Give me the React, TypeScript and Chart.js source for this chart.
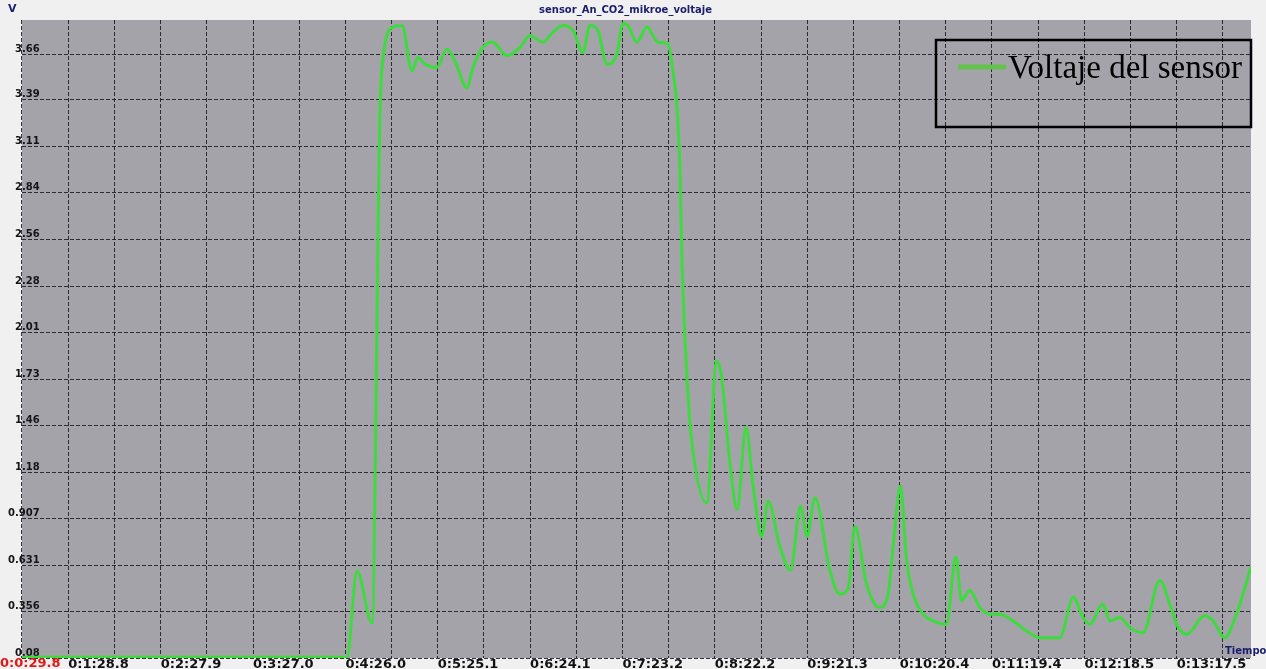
import React, { useEffect, useRef } from 'react';
import { Chart, registerables } from 'chart.js';

Chart.register(...registerables);

const chartTitle = 'sensor_An_CO2_mikroe_voltaje';
const seriesLabel = 'Voltaje del sensor';
const yAxisTitle = 'V';
const xAxisTitle = 'Tiempo';
const originLabel = '0:0:29.8';

const xTickLabels = [
  '0:1:28.8', '0:2:27.9', '0:3:27.0', '0:4:26.0', '0:5:25.1', '0:6:24.1', '0:7:23.2',
  '0:8:22.2', '0:9:21.3', '0:10:20.4', '0:11:19.4', '0:12:18.5', '0:13:17.5',
];
const yTickLabels = [
  '0.08', '0.356', '0.631', '0.907', '1.18', '1.46', '1.73', '2.01', '2.28', '2.56', '2.84', '3.11', '3.39', '3.66',
];

// time in seconds
const timeSeconds = [
  59.3, 267.0, 273.4, 283.0, 288.1, 290.7, 296.4, 302.2, 308.6, 312.4, 316.9, 324.5, 330.9, 336.0,
  343.7, 347.5, 353.9, 360.3, 369.3, 377.6, 384.0, 392.3, 398.7, 405.1, 411.5, 417.9, 422.3, 427.5,
  433.2, 439.6, 443.4, 446.6, 452.4, 458.8, 465.8, 472.2, 475.4, 477.9, 479.9, 481.1, 483.1, 485.0,
  486.9, 497.1, 503.3, 506.5, 511.8, 516.5, 522.1, 526.7, 532.1, 536.3, 543.8, 550.6, 557.0, 561.2,
  566.2, 575.7, 582.1, 587.4, 591.7, 599.2, 607.3, 613.0, 616.2, 620.9, 624.8, 629.0, 635.4, 641.8,
  650.3, 656.3, 659.9, 665.2, 671.6, 678.0, 684.4, 692.9, 701.5, 710.0, 722.8, 731.4, 737.6, 741.9,
  750.4, 754.7, 761.1, 767.5, 776.0, 786.7, 793.1, 797.4, 803.7, 815.4, 820.8, 828.2, 835.7, 845.0,
];
const voltage = [
  0.085, 0.085, 0.596, 0.288, 3.30, 3.68, 3.82, 3.83, 3.56, 3.64, 3.60, 3.58, 3.69, 3.62,
  3.46, 3.58, 3.70, 3.73, 3.65, 3.70, 3.77, 3.73, 3.79, 3.83, 3.80, 3.67, 3.83, 3.80,
  3.60, 3.66, 3.84, 3.83, 3.73, 3.82, 3.73, 3.72, 3.56, 3.36, 2.98, 2.48, 1.98, 1.65,
  1.41, 1.00, 1.84, 1.75, 1.24, 0.96, 1.45, 1.10, 0.80, 1.01, 0.74, 0.60, 0.98, 0.80,
  1.03, 0.60, 0.46, 0.49, 0.86, 0.52, 0.38, 0.46, 0.74, 1.10, 0.66, 0.46, 0.34, 0.30,
  0.28, 0.68, 0.42, 0.48, 0.38, 0.34, 0.34, 0.30, 0.24, 0.20, 0.20, 0.44, 0.32, 0.28,
  0.40, 0.30, 0.32, 0.26, 0.23, 0.54, 0.40, 0.28, 0.22, 0.33, 0.30, 0.20, 0.34, 0.62,
];

const xMin = 59.25;
const xMax = 845.0;
const yMin = 0.08;
const yMax = 3.862;

const parseTime = (s: string) => {
  const [h, m, sec] = s.split(':').map(parseFloat);
  return h * 3600 + m * 60 + sec;
};
const labelSeconds = xTickLabels.map(parseTime);
const xTickValues: number[] = [];
labelSeconds.forEach((v, i) => {
  if (i === 0) xTickValues.push(v - (labelSeconds[1] - v) / 2);
  xTickValues.push(v);
  if (i < labelSeconds.length - 1) xTickValues.push((v + labelSeconds[i + 1]) / 2);
  else xTickValues.push(v + (v - labelSeconds[i - 1]) / 2);
});
const yTickValues = yTickLabels.map(parseFloat);

const pageBg = '#f0f0f0';
const plotBg = '#a4a3aa';
const gridColor = 'rgba(30,30,35,0.9)';
const lineColor = '#3ddc3d';
const legendSwatch = '#62c24a';
const navy = '#1c1c6e';

const decorPlugin = {
  id: 'decor',
  beforeDraw(chart: any) {
    const { ctx, chartArea: a, width, height } = chart;
    ctx.save();
    ctx.fillStyle = pageBg;
    ctx.fillRect(0, 0, width, height);
    ctx.fillStyle = plotBg;
    ctx.fillRect(a.left, a.top, a.right - a.left, a.bottom - a.top);
    ctx.restore();
  },
  afterDraw(chart: any) {
    const { ctx, chartArea: a } = chart;
    ctx.save();
    ctx.fillStyle = navy;
    ctx.font = 'bold 11px "DejaVu Sans"';
    ctx.textAlign = 'left';
    ctx.textBaseline = 'middle';
    ctx.fillText(yAxisTitle, 8, 9);
    ctx.font = 'bold 10px "DejaVu Sans"';
    ctx.fillText(xAxisTitle, a.right - 26, a.bottom - 7);
    ctx.fillStyle = '#e01818';
    ctx.font = 'bold 13px "DejaVu Sans"';
    ctx.textBaseline = 'top';
    ctx.fillText(originLabel, a.left - 22, a.bottom - 1);
    const bw = 315, bh = 87;
    const bx = a.right - bw, by = a.top + 20;
    ctx.strokeStyle = '#000';
    ctx.lineWidth = 2.5;
    ctx.strokeRect(bx, by, bw, bh);
    ctx.strokeStyle = legendSwatch;
    ctx.lineWidth = 5;
    ctx.beginPath();
    ctx.moveTo(bx + 22, by + 27);
    ctx.lineTo(bx + 70, by + 27);
    ctx.stroke();
    ctx.fillStyle = '#000';
    ctx.font = '33px "Liberation Serif"';
    ctx.textBaseline = 'middle';
    ctx.fillText(chart.data.datasets[0].label, bx + 72, by + 29);
    ctx.restore();
  },
};

export default function App() {
  const canvasRef = useRef<HTMLCanvasElement>(null);

  useEffect(() => {
    document.body.style.margin = '0';
    const canvas = canvasRef.current;
    if (!canvas) return;
    const chart = new Chart(canvas, {
      type: 'line',
      data: {
        datasets: [
          {
            label: seriesLabel,
            data: timeSeconds.map((t, i) => ({ x: t, y: voltage[i] })),
            borderColor: lineColor,
            backgroundColor: lineColor,
            borderWidth: 3,
            pointRadius: 0,
            cubicInterpolationMode: 'monotone',
            fill: false,
          },
        ],
      },
      options: {
        animation: false,
        responsive: true,
        maintainAspectRatio: false,
        layout: { padding: { left: 0, right: 15, top: 0, bottom: 0 } },
        plugins: {
          legend: { display: false },
          tooltip: { enabled: false },
          title: {
            display: true,
            text: chartTitle,
            color: navy,
            font: { family: '"DejaVu Sans"', size: 10, weight: 'bold', lineHeight: 1.2 },
            padding: { top: 4, bottom: 4 },
          },
        },
        scales: {
          x: {
            type: 'linear',
            min: xMin,
            max: xMax,
            afterBuildTicks: (s: any) => {
              s.ticks = xTickValues.map((v) => ({ value: v }));
            },
            afterFit: (s: any) => {
              s.height = 11;
            },
            grid: { color: gridColor, lineWidth: 1, drawTicks: false },
            border: { display: false, dash: [4, 2] },
            ticks: {
              autoSkip: false,
              maxRotation: 0,
              minRotation: 0,
              align: 'start',
              padding: -1,
              color: '#111',
              font: { family: '"DejaVu Sans"', size: 13, weight: 'bold' },
              callback: (_v: any, i: number) => (i % 2 === 1 ? xTickLabels[(i - 1) / 2] : ''),
            },
          },
          y: {
            type: 'linear',
            min: yMin,
            max: yMax,
            afterBuildTicks: (s: any) => {
              s.ticks = yTickValues.map((v) => ({ value: v }));
            },
            afterFit: (s: any) => {
              s.width = 22;
            },
            grid: { color: gridColor, lineWidth: 1, drawTicks: false },
            border: { display: false, dash: [4, 2] },
            ticks: {
              autoSkip: false,
              mirror: true,
              crossAlign: 'far',
              padding: -14,
              labelOffset: -5,
              color: '#151515',
              font: { family: '"DejaVu Sans"', size: 10, weight: 'bold' },
              callback: (_v: any, i: number) => yTickLabels[i],
            },
          },
        },
      },
      plugins: [decorPlugin],
    } as any);
    return () => chart.destroy();
  }, []);

  return (
    <div style={{ width: 1266, height: 669, position: 'relative' }}>
      <canvas ref={canvasRef} />
    </div>
  );
}
